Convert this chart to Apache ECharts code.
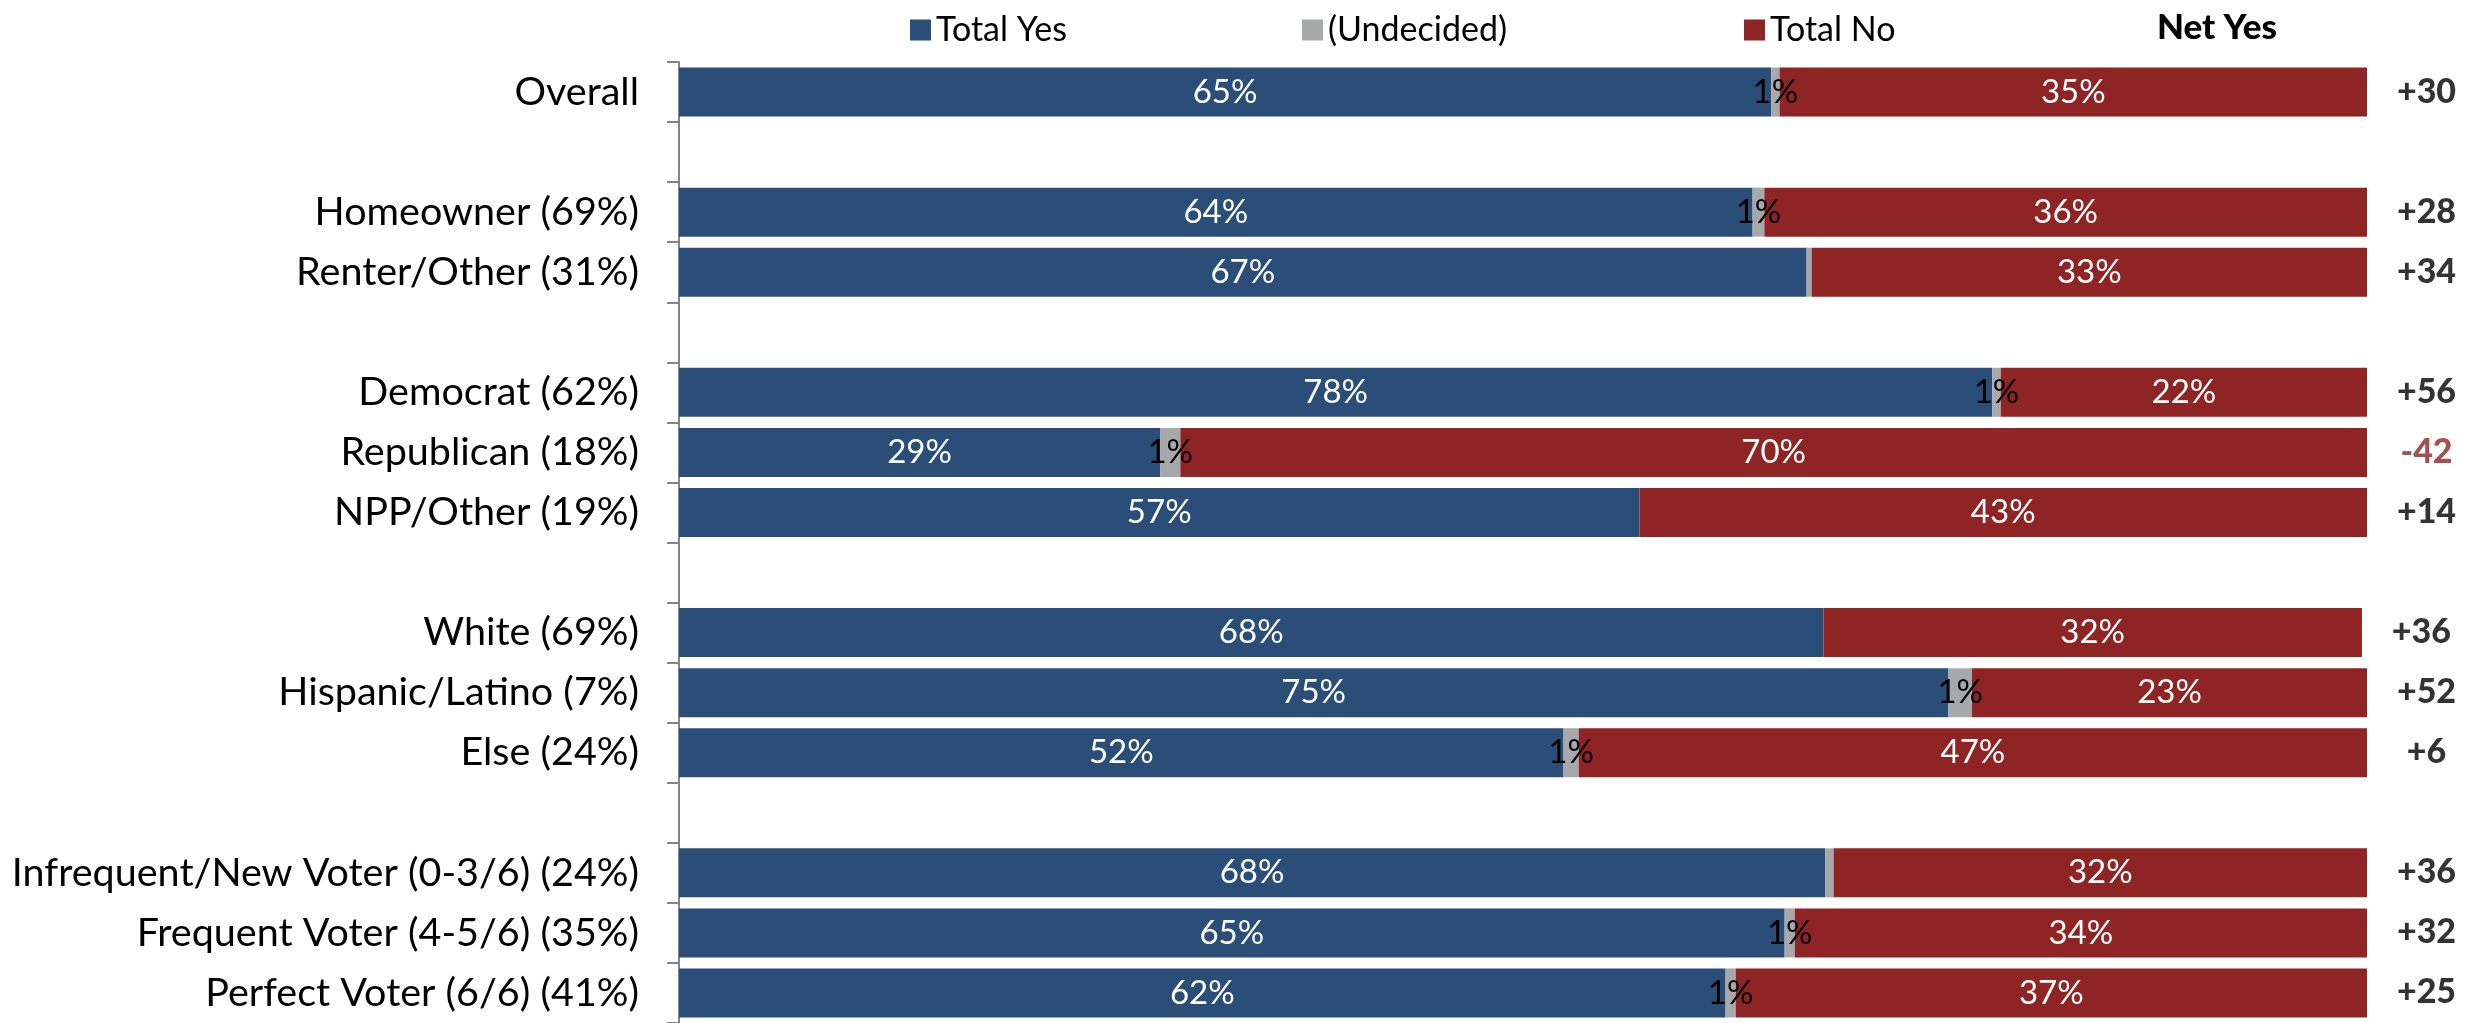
<!DOCTYPE html>
<html>
<head>
<meta charset="utf-8">
<script src="https://cdn.jsdelivr.net/npm/echarts@6/dist/echarts.min.js"></script>
<style>
html,body{margin:0;padding:0;background:#fff;}
#chart{width:2486px;height:1023px;}
</style>
</head>
<body>
<div id="chart"></div>
<script>
// Categories (top to bottom); gap rows are blank spacers
var categories = ['Overall', '', 'Homeowner (69%)', 'Renter/Other (31%)', ' ',
  'Democrat (62%)', 'Republican (18%)', 'NPP/Other (19%)', '  ',
  'White (69%)', 'Hispanic/Latino (7%)', 'Else (24%)', '   ',
  'Infrequent/New Voter (0-3/6) (24%)', 'Frequent Voter (4-5/6) (35%)', 'Perfect Voter (6/6) (41%)'];

// Bar lengths (percent)
var totalYes  = [64.7, null, 63.6, 66.8, null, 77.8, 28.5, 56.9, null, 67.8, 75.2, 52.4, null, 67.9, 65.5, 62.0];
var undecided = [0.5,  null, 0.7,  0.3,  null, 0.5,  1.2,  0,    null, 0,    1.4,  0.9,  null, 0.5,  0.6,  0.6];
var totalNo   = [34.8, null, 35.7, 32.9, null, 21.7, 70.3, 43.1, null, 31.9, 23.4, 46.7, null, 31.6, 33.9, 37.4];

// Printed labels
var yesLabels = ['65%', '', '64%', '67%', '', '78%', '29%', '57%', '', '68%', '75%', '52%', '', '68%', '65%', '62%'];
var undLabels = ['1%', '', '1%', '', '', '1%', '1%', '', '', '', '1%', '1%', '', '', '1%', '1%'];
var noLabels  = ['35%', '', '36%', '33%', '', '22%', '70%', '43%', '', '32%', '23%', '47%', '', '32%', '34%', '37%'];
var netYes    = ['+30', '', '+28', '+34', '', '+56', '-42', '+14', '', '+36', '+52', '+6', '', '+36', '+32', '+25'];

var C_YES = '#2A4E77', C_UND = '#A7A8AB', C_NO = '#8E2424';
var FONT = 'Lato';

function lblFrom(arr) {
  return function (p) { return arr[p.dataIndex] || ''; };
}

var netData = [];
for (var i = 0; i < categories.length; i++) {
  if (totalYes[i] !== null) {
    netData.push({
      value: [totalYes[i] + undecided[i] + totalNo[i], i],
      label: {
        show: true, position: [60, 0], align: 'center', verticalAlign: 'middle',
        formatter: netYes[i],
        color: netYes[i].charAt(0) === '-' ? C_NO : '#000'
      }
    });
  }
}

var chart = echarts.init(document.getElementById('chart'), null, {renderer: 'canvas'});
var legendText = {fontFamily: FONT, fontSize: 34, color: '#000'};
function legendAt(name, left) {
  return {data: [name], left: left, top: 8, icon: 'rect', itemWidth: 21, itemHeight: 21,
    itemGap: 0, textStyle: legendText, selectedMode: false};
}
var option = {
  animation: false,
  textStyle: {fontFamily: FONT},
  title: {
    text: 'Net Yes', left: 2152, top: 5,
    textStyle: {fontFamily: FONT, fontSize: 35, fontWeight: 900, color: '#000'}
  },
  legend: [legendAt('Total Yes', 905), legendAt('(Undecided)', 1297), legendAt('Total No', 1739)],
  grid: {left: 679, right: 119, top: 62, height: 962, containLabel: false},
  xAxis: {type: 'value', min: 0, max: 100, show: false},
  yAxis: {
    type: 'category', inverse: true, data: categories,
    axisLine: {show: true, lineStyle: {color: '#858585', width: 2}},
    axisTick: {show: true, length: 12, interval: 0, lineStyle: {color: '#858585', width: 2}},
    axisLabel: {interval: 0, margin: 40, fontFamily: FONT, fontSize: 39.5, color: '#000'},
    splitLine: {show: false}
  },
  series: [
    {name: 'Total Yes', type: 'bar', stack: 's', data: totalYes, barWidth: 49,
      itemStyle: {color: C_YES},
      label: {show: true, position: 'inside', color: '#fff', fontFamily: FONT, fontSize: 33, formatter: lblFrom(yesLabels)}},
    {name: '(Undecided)', type: 'bar', stack: 's', data: undecided, barWidth: 49,
      itemStyle: {color: C_UND},
      label: {show: true, position: 'inside', color: '#000', fontFamily: FONT, fontSize: 33, formatter: lblFrom(undLabels)}},
    {name: 'Total No', type: 'bar', stack: 's', data: totalNo, barWidth: 49,
      itemStyle: {color: C_NO},
      label: {show: true, position: 'inside', color: '#fff', fontFamily: FONT, fontSize: 33, formatter: lblFrom(noLabels)}},
    {name: 'Net', type: 'scatter', symbolSize: 1, data: netData, silent: true,
      itemStyle: {color: 'rgba(0,0,0,0)'},
      label: {show: true, position: [60, 0], align: 'center', verticalAlign: 'middle',
        fontFamily: FONT, fontSize: 34, fontWeight: 900, color: '#000'}}
  ]
};
chart.setOption(option);
</script>
</body>
</html>
